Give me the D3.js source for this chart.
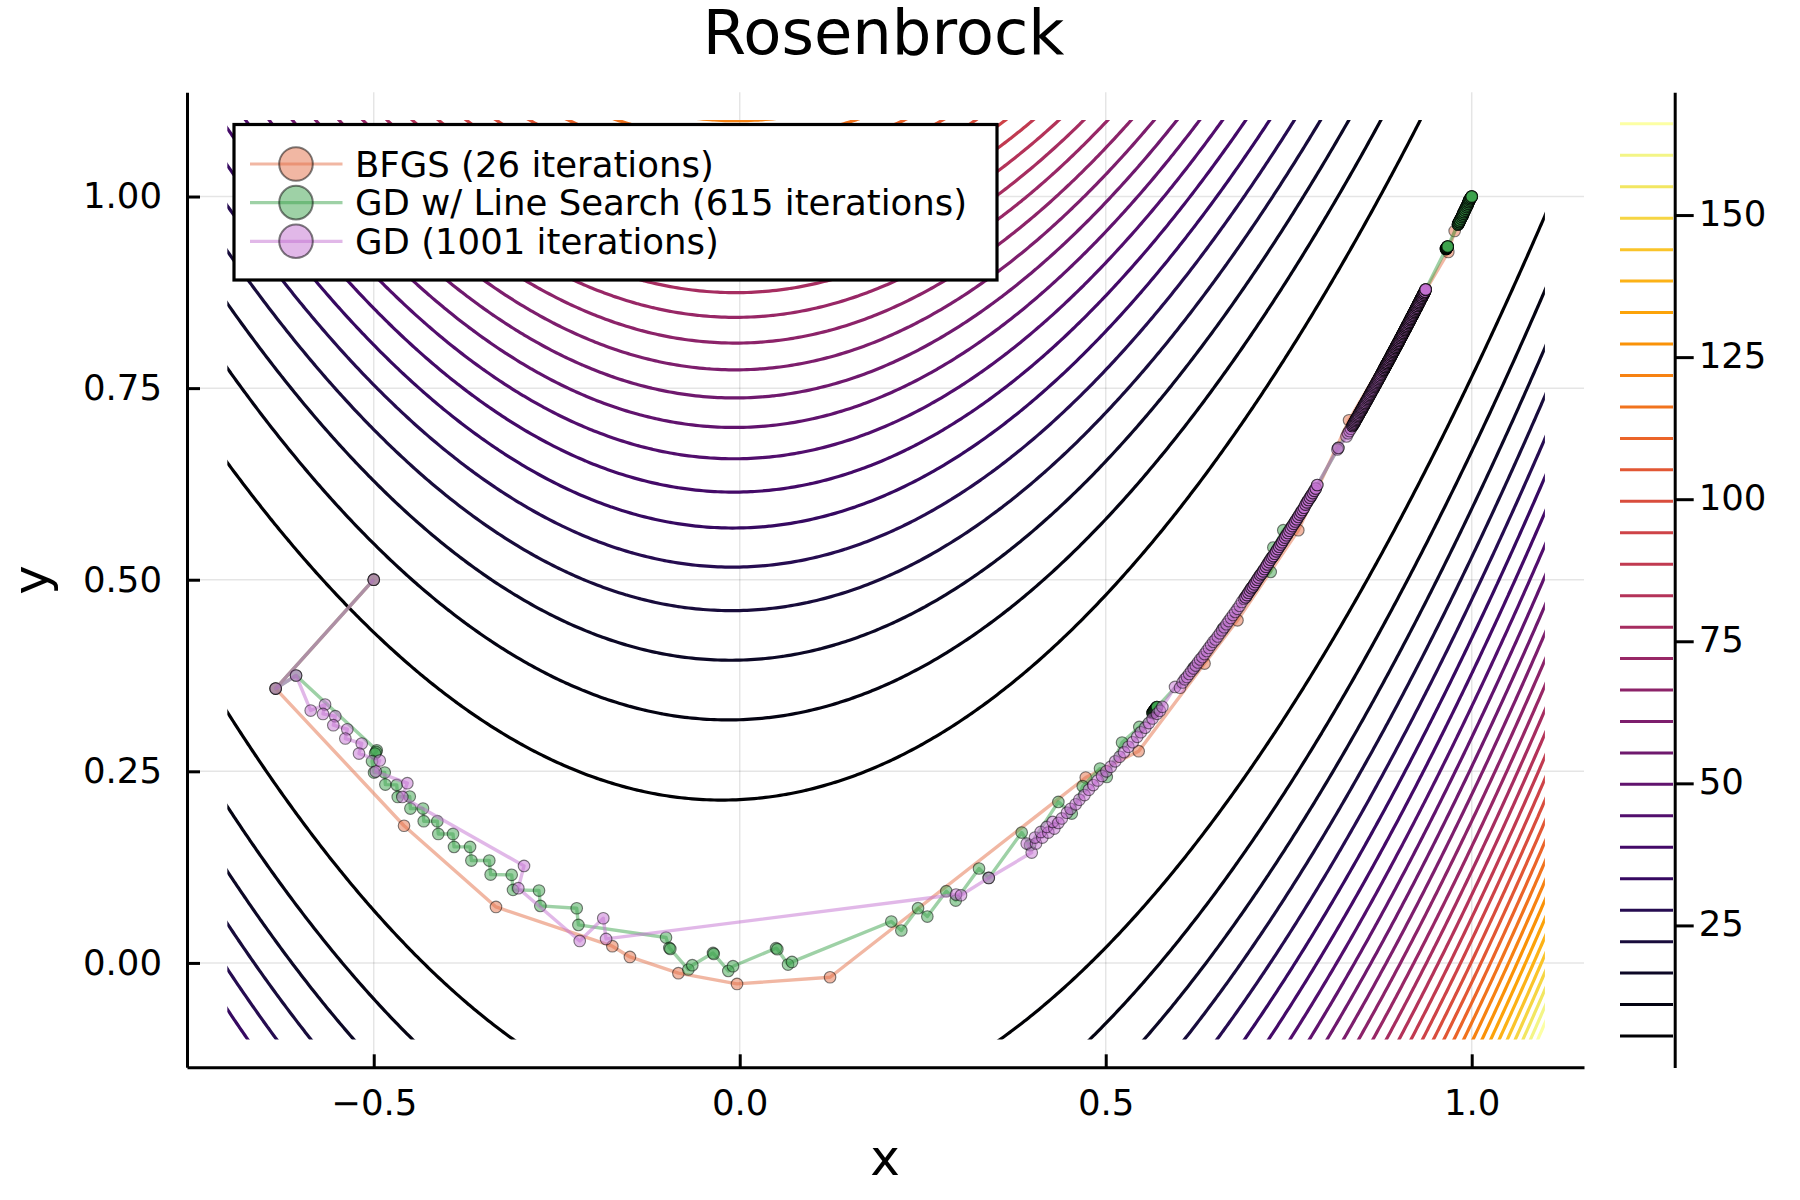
<!DOCTYPE html>
<html><head><meta charset="utf-8">
<script src="https://cdn.jsdelivr.net/npm/d3@7"></script>
<style>html,body{margin:0;padding:0;background:#fff}svg{display:block}text{font-family:"DejaVu Sans";fill:#000}</style>
</head><body><div id="c"></div>
<script>
const levels=[5.54,11.07,16.61,22.14,27.68,33.21,38.75,44.28,49.82,55.35,60.89,66.42,71.96,77.49,83.03,88.56,94.10,99.63,105.17,110.70,116.24,121.77,127.31,132.84,138.38,143.91,149.45,154.98,160.52,166.05];
const xTicks=[-0.5,0,0.5,1];
const yTicks=[0,0.25,0.5,0.75,1];
const cbTicks=[25,50,75,100,125,150];
const seriesNames=["BFGS (26 iterations)","GD w/ Line Search (615 iterations)","GD (1001 iterations)"];
const seriesColors=["#e36f47","#3ea44e","#c371d2"];
const bfgs=[[-0.5,0.5],[-0.634,0.358],[-0.4586,0.179],[-0.333,0.073],[-0.174,0.0218],[-0.15,0.0078],[-0.0838,-0.0134],[-0.0037,-0.0274],[0.1234,-0.0187],[0.4727,0.2419],[0.545,0.2763],[0.635,0.3906],[0.68,0.447],[0.7631,0.5646],[0.8324,0.7081],[0.968,0.9277],[0.9767,0.955],[1,1]];
const lineSearch=[[-0.5,0.5],[-0.634,0.358],[-0.6061,0.375],[-0.4959,0.2775],[-0.4968,0.2753],[-0.4982,0.2732],[-0.5023,0.2632],[-0.4996,0.2484],[-0.485,0.2484],[-0.4841,0.2327],[-0.4686,0.2323],[-0.4672,0.2166],[-0.4508,0.2171],[-0.4499,0.2014],[-0.4327,0.2014],[-0.4317,0.1849],[-0.4131,0.1849],[-0.4118,0.1683],[-0.3917,0.1683],[-0.3903,0.1514],[-0.3684,0.1514],[-0.3666,0.1336],[-0.3421,0.1336],[-0.3403,0.1153],[-0.3115,0.1149],[-0.3097,0.0953],[-0.2742,0.0944],[-0.2724,0.0744],[-0.2227,0.0713],[-0.2204,0.0496],[-0.1007,0.0331],[-0.0962,0.0196],[-0.0948,0.0183],[-0.0702,-0.0086],[-0.0648,-0.003],[-0.0365,0.013],[-0.0355,0.0117],[-0.0156,-0.0104],[-0.0092,-0.0043],[0.0496,0.0192],[0.0514,0.0179],[0.066,-0.0021],[0.0714,0.0013],[0.2071,0.054],[0.2208,0.0423],[0.2436,0.0714],[0.2563,0.0605],[0.2822,0.0936],[0.2951,0.0814],[0.3269,0.1232],[0.3402,0.1109],[0.3852,0.1701],[0.3966,0.1536],[0.4353,0.2101],[0.4536,0.1949],[0.4686,0.2306],[0.4922,0.2537],[0.5014,0.2427],[0.5223,0.2876],[0.5459,0.3079],[0.564,0.3262],[0.565,0.3275],[0.566,0.3288],[0.567,0.33],[0.568,0.3312],[0.569,0.3325],[0.57,0.3338],[0.62,0.385],[0.66,0.436],[0.7,0.49],[0.7254,0.5102],[0.729,0.542],[0.7426,0.5646],[0.78,0.608],[0.8178,0.672],[0.84,0.706],[0.88,0.774],[0.92,0.846],[0.9649,0.9316],[0.9653,0.9322],[0.9658,0.9329],[0.9662,0.9335],[0.9667,0.9341],[0.9672,0.9348],[0.9813,0.9635],[0.982,0.965],[0.9831,0.9669],[0.984,0.969],[0.9854,0.9713],[0.9865,0.9735],[0.9877,0.9756],[0.9886,0.9778],[0.9895,0.9799],[0.9907,0.982],[0.9918,0.9843],[0.9929,0.9865],[0.994,0.9886],[0.995,0.9908],[0.9959,0.993],[0.9968,0.995],[0.9977,0.9969],[0.999,0.9985],[1,1]];
const gradDescent=[[-0.5,0.5],[-0.634,0.358],[-0.6061,0.375],[-0.5861,0.3293],[-0.5665,0.3372],[-0.5693,0.3249],[-0.5525,0.3219],[-0.5552,0.3102],[-0.5361,0.3049],[-0.5388,0.2928],[-0.5164,0.2863],[-0.5201,0.2732],[-0.4918,0.2641],[-0.4973,0.2497],[-0.4541,0.2345],[-0.4609,0.2166],[-0.2947,0.1266],[-0.3025,0.0975],[-0.2186,0.0287],[-0.1864,0.0583],[-0.1826,0.0313],[0.2955,0.0892],[0.3023,0.0883],[0.3402,0.1109],[0.3989,0.144],[0.3921,0.1558],[0.4048,0.1558],[0.4034,0.1636],[0.4134,0.1636],[0.4112,0.1709],[0.4216,0.1701],[0.4194,0.1775],[0.4298,0.1753],[0.4276,0.184],[0.4353,0.1827],[0.44,0.1885],[0.447,0.196],[0.452,0.201],[0.459,0.207],[0.464,0.213],[0.471,0.219],[0.477,0.226],[0.483,0.232],[0.489,0.238],[0.495,0.244],[0.501,0.25],[0.507,0.256],[0.513,0.263],[0.519,0.269],[0.525,0.275],[0.531,0.282],[0.537,0.288],[0.543,0.295],[0.548,0.301],[0.554,0.307],[0.559,0.313],[0.564,0.319],[0.57,0.325],[0.574,0.329],[0.5774,0.3341],[0.5947,0.3601],[0.6015,0.3591],
[0.605,0.366],[0.608,0.37],[0.611,0.373],[0.614,0.377],[0.617,0.381],[0.62,0.384],[0.623,0.388],[0.626,0.392],[0.629,0.396],[0.632,0.399],[0.635,0.403],[0.638,0.407],[0.641,0.411],[0.644,0.415],[0.647,0.419],[0.65,0.422],[0.653,0.426],[0.656,0.43],[0.659,0.434],[0.662,0.438],[0.665,0.442],[0.668,0.446],[0.671,0.45],[0.674,0.454],[0.677,0.458],[0.68,0.462],[0.683,0.466],[0.686,0.471],[0.689,0.475],
[0.691,0.477],[0.693,0.48],[0.695,0.483],[0.697,0.486],[0.699,0.489],[0.701,0.491],[0.703,0.494],[0.705,0.497],[0.707,0.5],[0.709,0.503],[0.711,0.506],[0.713,0.508],[0.715,0.511],[0.717,0.514],[0.719,0.517],[0.721,0.52],[0.723,0.523],[0.725,0.526],[0.727,0.529],[0.729,0.531],[0.731,0.534],[0.733,0.537],[0.735,0.54],[0.737,0.543],[0.739,0.546],[0.741,0.549],[0.743,0.552],[0.745,0.555],[0.747,0.558],[0.749,0.561],[0.751,0.564],[0.753,0.567],[0.755,0.57],[0.757,0.573],[0.759,0.576],[0.761,0.579],[0.763,0.582],[0.765,0.585],[0.767,0.588],[0.769,0.591],[0.771,0.594],[0.773,0.598],[0.775,0.601],[0.777,0.604],[0.779,0.607],[0.781,0.61],[0.783,0.613],[0.785,0.616],[0.787,0.619],[0.789,0.6236],
[0.8165,0.67],[0.8178,0.672],[0.829,0.687],[0.831,0.691],[0.833,0.694],[0.835,0.697],
[0.837,0.7006],[0.838,0.7022],[0.839,0.7039],[0.84,0.7056],[0.841,0.7073],[0.842,0.709],[0.843,0.7106],[0.844,0.7123],[0.845,0.714],[0.846,0.7157],[0.847,0.7174],[0.848,0.7191],[0.849,0.7208],[0.85,0.7225],[0.851,0.7242],[0.852,0.7259],[0.853,0.7276],[0.854,0.7293],[0.855,0.731],[0.856,0.7327],[0.857,0.7344],[0.858,0.7362],[0.859,0.7379],[0.86,0.7396],[0.861,0.7413],[0.862,0.743],[0.863,0.7448],[0.864,0.7465],[0.865,0.7482],[0.866,0.75],[0.867,0.7517],[0.868,0.7534],[0.869,0.7552],[0.87,0.7569],[0.871,0.7586],[0.872,0.7604],[0.873,0.7621],[0.874,0.7639],[0.875,0.7656],[0.876,0.7674],[0.877,0.7691],[0.878,0.7709],[0.879,0.7726],[0.88,0.7744],[0.881,0.7762],[0.882,0.7779],[0.883,0.7797],[0.884,0.7815],[0.885,0.7832],[0.886,0.785],[0.887,0.7868],[0.888,0.7885],[0.889,0.7903],[0.89,0.7921],[0.891,0.7939],[0.892,0.7957],[0.893,0.7974],[0.894,0.7992],[0.895,0.801],[0.896,0.8028],[0.897,0.8046],[0.898,0.8064],[0.899,0.8082],[0.9,0.81],[0.901,0.8118],[0.902,0.8136],[0.903,0.8154],[0.904,0.8172],[0.905,0.819],[0.906,0.8208],[0.907,0.8226],[0.908,0.8245],[0.909,0.8263],[0.91,0.8281],[0.911,0.8299],[0.912,0.8317],[0.913,0.8336],[0.914,0.8354],[0.915,0.8372],[0.916,0.8391],[0.917,0.8409],[0.918,0.8427],[0.919,0.8446],[0.92,0.8464],[0.921,0.8482],[0.922,0.8501],[0.923,0.8519],[0.924,0.8538],[0.925,0.8556],[0.926,0.8575],[0.927,0.8593],[0.928,0.8612],[0.929,0.863],[0.93,0.8649],[0.931,0.8668],[0.932,0.8686],[0.933,0.8705],[0.934,0.8724],[0.935,0.8742],[0.936,0.8761],[0.9371,0.8787]];
const seriesData=[bfgs,lineSearch,gradDescent];
// Where iterates pile up and cannot be told apart, each listed point stands for several iterations: [from x, to x, layers]
const stackedStretches=[[],[[0.56,0.575,3],[0.96,1.01,4]],[[0.69,0.79,2],[0.836,0.88,3],[0.88,0.94,5]]];

const W=1800,H=1200;
const x=d3.scaleLinear().domain([-0.7551,1.1534]).range([187,1584]);
const y=d3.scaleLinear().domain([-0.1362,1.136]).range([1067.3,92.3]);
const cb=d3.scaleLinear().domain([0,171.6]).range([1067.5,92.3]);
const levelColor=d3.scaleSequential(d3.interpolateInferno).domain([levels[0],levels[levels.length-1]]);

const svg=d3.select("#c").append("svg").attr("width",W).attr("height",H);
svg.append("defs").append("clipPath").attr("id","dom").append("rect")
  .attr("x",x(-0.7)).attr("y",y(1.1)).attr("width",x(1.1)-x(-0.7)).attr("height",y(-0.1)-y(1.1));

// grid
const grid=svg.append("g").attr("stroke","#000").attr("stroke-opacity",0.1).attr("stroke-width",1.5);
grid.selectAll(".gx").data(xTicks).join("line").attr("x1",d=>x(d)).attr("x2",d=>x(d)).attr("y1",y.range()[1]).attr("y2",y.range()[0]);
grid.selectAll(".gy").data(yTicks).join("line").attr("y1",d=>y(d)).attr("y2",d=>y(d)).attr("x1",x.range()[0]).attr("x2",x.range()[1]);

// contours of the Rosenbrock function named in the title
const step=0.005,gx0=-0.8,gy0=-0.2,nx=401,ny=281;
const field=new Float64Array(nx*ny);
for(let j=0;j<ny;j++)for(let i=0;i<nx;i++){const a=gx0+i*step,b=gy0+j*step;field[j*nx+i]=(1-a)*(1-a)+100*(b-a*a)*(b-a*a);}
const contours=d3.contours().size([nx,ny]).thresholds(levels)(Array.from(field));
const proj=d3.geoTransform({point(cx,cy){this.stream.point(x(gx0+(cx-0.5)*step),y(gy0+(cy-0.5)*step));}});
const geo=d3.geoPath(proj);
svg.append("g").attr("clip-path","url(#dom)").selectAll("path").data(contours).join("path")
  .attr("d",geo).attr("fill","none").attr("stroke-width",3.2).attr("stroke-linejoin","round").attr("stroke",d=>levelColor(d.value));

// series
const line=d3.line().x(d=>x(d[0])).y(d=>y(d[1]));
const layersOf=(p,k)=>{const m=stackedStretches[k].find(r=>p[0]>=r[0]&&p[0]<r[1]);return m?m[2]:1;};
seriesData.forEach((s,k)=>{
  const g=svg.append("g");
  g.append("path").attr("d",line(s)).attr("fill","none").attr("stroke",seriesColors[k]).attr("stroke-opacity",0.5).attr("stroke-width",3.4).attr("stroke-linejoin","round");
  const marks=s.flatMap(p=>d3.range(layersOf(p,k)).map(()=>p));
  g.selectAll("circle").data(marks).join("circle").attr("cx",d=>x(d[0])).attr("cy",d=>y(d[1])).attr("r",5.8)
    .attr("fill",seriesColors[k]).attr("fill-opacity",0.5).attr("stroke","#000").attr("stroke-opacity",0.5).attr("stroke-width",1.1);
});

// axes
const axB=svg.append("g").attr("transform",`translate(0,${y.range()[0]})`).call(d3.axisBottom(x).tickValues(xTicks).tickFormat(d3.format(".1f")).tickSizeInner(-13).tickSizeOuter(0).tickPadding(22));
const axL=svg.append("g").attr("transform",`translate(${x.range()[0]},0)`).call(d3.axisLeft(y).tickValues(yTicks).tickFormat(d3.format(".2f")).tickSizeInner(-13).tickSizeOuter(0).tickPadding(25));
[axB,axL].forEach(a=>{a.selectAll("text").style("font-family","DejaVu Sans").style("font-size","35.5px").attr("fill","#000");
  a.select(".domain").attr("stroke-width",3).attr("stroke","#000");a.selectAll("line").attr("stroke-width",3).attr("stroke","#000");});

// colour bar
svg.append("g").selectAll("line").data(levels).join("line").attr("x1",1620).attr("x2",1673).attr("y1",d=>cb(d)).attr("y2",d=>cb(d)).attr("stroke",d=>levelColor(d)).attr("stroke-width",3);
const axR=svg.append("g").attr("transform","translate(1674.7,0)").call(d3.axisRight(cb).tickValues(cbTicks).tickSizeInner(19).tickSizeOuter(0).tickPadding(5));
axR.selectAll("text").style("font-family","DejaVu Sans").style("font-size","35.5px").attr("fill","#000").attr("y",-1);
axR.select(".domain").attr("stroke-width",3).attr("stroke","#000");axR.selectAll("line").attr("stroke-width",3).attr("stroke","#000");

// titles
svg.append("text").attr("x",883.5).attr("y",54).attr("text-anchor","middle").style("font-size","62.4px").text("Rosenbrock");
svg.append("text").attr("x",885).attr("y",1175).attr("text-anchor","middle").style("font-size","50px").text("x");
svg.append("text").attr("transform","translate(48,580) rotate(-90)").attr("text-anchor","middle").style("font-size","50px").text("y");

// legend
const lg=svg.append("g");
lg.append("rect").attr("x",234).attr("y",124.5).attr("width",763).attr("height",155.5).attr("fill","#fff").attr("stroke","#000").attr("stroke-width",3.2);
const rowY=d3.scalePoint().domain(seriesNames).range([164,241.3]);
seriesNames.forEach((n,k)=>{
  const ry=rowY(n);
  lg.append("line").attr("x1",250).attr("x2",342.5).attr("y1",ry).attr("y2",ry).attr("stroke",seriesColors[k]).attr("stroke-opacity",0.5).attr("stroke-width",3.2);
  lg.append("circle").attr("cx",296).attr("cy",ry).attr("r",16.8).attr("fill",seriesColors[k]).attr("fill-opacity",0.5).attr("stroke","#000").attr("stroke-opacity",0.5).attr("stroke-width",2);
  lg.append("text").attr("x",355).attr("y",ry+12.5).style("font-size","35.5px").text(n);
});
</script></body></html>
